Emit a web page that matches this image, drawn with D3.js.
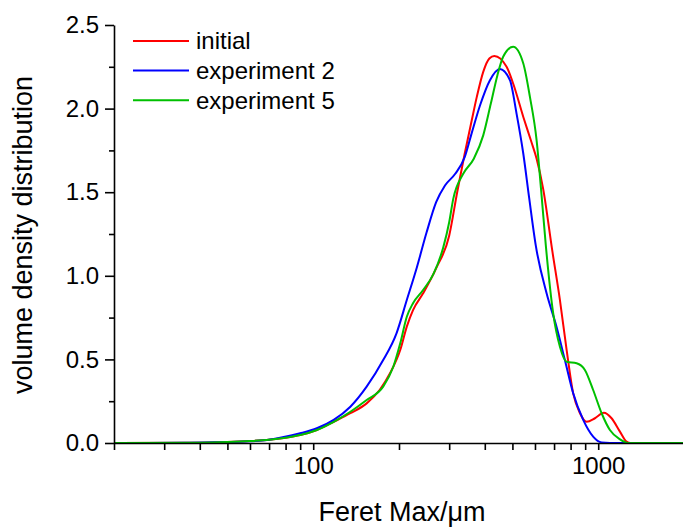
<!DOCTYPE html>
<html>
<head>
<meta charset="utf-8">
<script src="https://cdn.jsdelivr.net/npm/d3@7"></script>
<style>
  body { margin: 0; background: #ffffff; }
  svg { display: block; font-family: "Liberation Sans", Arial, sans-serif; }
</style>
</head>
<body>
<svg id="chart"></svg>
<script>
// Feret Max (µm) / volume density
const initialX = [20, 40, 50, 60, 70, 80, 90, 103, 118, 135, 154, 171, 186, 202, 213, 224, 243, 271, 300, 320, 340, 360, 375, 395, 415, 432, 477, 503, 546, 583, 608, 641, 690, 734, 775, 817, 863, 911, 974, 1047, 1114, 1192, 1258, 1300, 2000];
const initialY = [0, 0.002, 0.006, 0.012, 0.02, 0.032, 0.048, 0.078, 0.127, 0.178, 0.237, 0.317, 0.417, 0.556, 0.696, 0.795, 0.895, 1.05, 1.24, 1.5, 1.73, 1.93, 2.07, 2.22, 2.3, 2.315, 2.25, 2.15, 1.95, 1.8, 1.7, 1.52, 1.15, 0.855, 0.556, 0.297, 0.178, 0.127, 0.148, 0.181, 0.148, 0.068, 0.008, 0, 0];

const exp2X = [20, 35, 45, 60, 69, 78, 90, 103, 118, 135, 154, 176, 196, 213, 231, 250, 270, 290, 315, 340, 358, 385, 417, 452, 490, 517, 546, 572, 604, 659, 714, 764, 817, 886, 960, 1028, 1100, 2000];
const exp2Y = [0, 0.001, 0.004, 0.01, 0.018, 0.034, 0.058, 0.088, 0.138, 0.217, 0.337, 0.496, 0.656, 0.855, 1.05, 1.26, 1.44, 1.54, 1.61, 1.71, 1.84, 2.02, 2.17, 2.237, 2.17, 1.97, 1.73, 1.47, 1.18, 0.895, 0.695, 0.496, 0.297, 0.138, 0.038, 0.003, 0, 0];

const exp5X = [20, 40, 50, 60, 70, 80, 90, 103, 118, 135, 154, 176, 191, 202, 213, 224, 243, 264, 286, 300, 310, 336, 366, 395, 420, 443, 464, 503, 546, 576, 608, 630, 655, 695, 734, 775, 840, 898, 960, 1028, 1099, 1192, 1274, 2000];
const exp5Y = [0, 0.002, 0.006, 0.012, 0.02, 0.032, 0.048, 0.078, 0.127, 0.187, 0.257, 0.337, 0.456, 0.596, 0.755, 0.836, 0.915, 1.01, 1.17, 1.32, 1.46, 1.61, 1.7, 1.84, 2.03, 2.2, 2.31, 2.37, 2.27, 2.07, 1.81, 1.52, 1.18, 0.776, 0.576, 0.486, 0.477, 0.437, 0.317, 0.178, 0.078, 0.022, 0, 0];

const seriesNames = ["initial", "experiment 2", "experiment 5"];
const seriesColors = ["#ff0000", "#0000ff", "#00c000"];

const yMajorTicks = [0, 0.5, 1.0, 1.5, 2.0, 2.5];
const yMinorTicks = [0.25, 0.75, 1.25, 1.75, 2.25];
const xTicks = [20, 30, 40, 50, 60, 70, 80, 90, 100, 200, 300, 400, 500, 600, 700, 800, 900, 1000, 2000];
const xTickLabels = [100, 1000];

const width = 683;
const height = 527;
const margin = { top: 25, right: -1, bottom: 84, left: 114 };

const svg = d3.select("#chart").attr("width", width).attr("height", height);

const x = d3.scaleLog()
  .domain([20, 2000])
  .range([margin.left, width - margin.right]);

const y = d3.scaleLinear()
  .domain([0, 2.5])
  .range([height - margin.bottom, margin.top]);

// curves
const series = [
  { xs: initialX, ys: initialY },
  { xs: exp2X, ys: exp2Y },
  { xs: exp5X, ys: exp5Y },
];

const line = d3.line()
  .x((d) => x(d[0]))
  .y((d) => y(d[1]))
  .curve(d3.curveMonotoneX);

series.forEach((s, i) => {
  svg.append("path")
    .datum(s.xs.map((v, j) => [v, s.ys[j]]))
    .attr("fill", "none")
    .attr("stroke", seriesColors[i])
    .attr("stroke-width", 2)
    .attr("d", line);
});

// axes
const xAxis = svg.append("g")
  .attr("transform", `translate(0, ${height - margin.bottom})`)
  .call(
    d3.axisBottom(x)
      .tickValues(xTicks)
      .tickSize(7)
      .tickSizeOuter(0)
      .tickPadding(7)
      .tickFormat((d) => (xTickLabels.includes(d) ? d : ""))
  );

const yAxis = svg.append("g")
  .attr("transform", `translate(${margin.left}, 0)`)
  .call(
    d3.axisLeft(y)
      .tickValues(yMajorTicks)
      .tickSize(9)
      .tickSizeOuter(0)
      .tickPadding(6)
      .tickFormat(d3.format(".1f"))
  );

const yMinor = svg.append("g")
  .attr("transform", `translate(${margin.left}, 0)`)
  .call(
    d3.axisLeft(y)
      .tickValues(yMinorTicks)
      .tickSize(5)
      .tickSizeOuter(0)
      .tickFormat("")
  );
yMinor.select(".domain").remove();

[xAxis, yAxis, yMinor].forEach((g) => {
  g.selectAll("path, line").attr("stroke", "#000").attr("stroke-width", 1.6);
  g.selectAll("text")
    .attr("fill", "#000")
    .style("font-size", "24px")
    .style("font-family", '"Liberation Sans", Arial, sans-serif');
});

// axis titles
svg.append("text")
  .attr("x", 402)
  .attr("y", 521)
  .attr("text-anchor", "middle")
  .style("font-size", "27px")
  .text("Feret Max/μm");

svg.append("text")
  .attr("transform", `translate(32, 235) rotate(-90)`)
  .attr("text-anchor", "middle")
  .style("font-size", "27px")
  .text("volume density distribution");

// legend
const legend = svg.append("g").attr("transform", "translate(133, 41)");
seriesNames.forEach((name, i) => {
  const row = legend.append("g").attr("transform", `translate(0, ${i * 29.6})`);
  row.append("line")
    .attr("x1", 0)
    .attr("x2", 56)
    .attr("stroke", seriesColors[i])
    .attr("stroke-width", 2);
  row.append("text")
    .attr("x", 63)
    .attr("dy", "0.35em")
    .style("font-size", "24px")
    .text(name);
});
</script>
</body>
</html>
